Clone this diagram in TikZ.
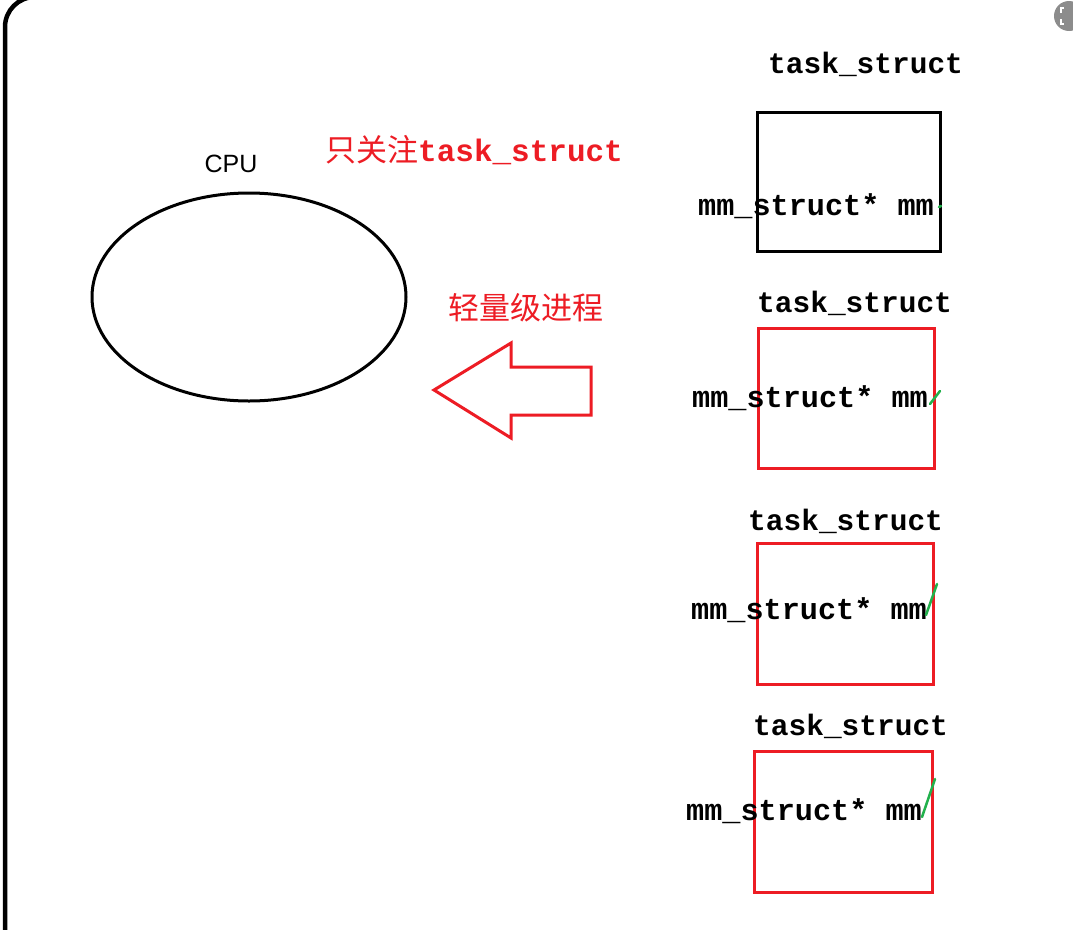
\documentclass[tikz,border=0pt]{standalone}
\usepackage{fontspec}
\usetikzlibrary{shapes.geometric}
\setmonofont{Liberation Mono}
\setsansfont{Liberation Sans}
\newfontfamily\cjk{Noto Sans CJK SC}
\definecolor{pred}{HTML}{ED1C24}
\definecolor{pgreen}{HTML}{22B14C}
\begin{document}
\begin{tikzpicture}[x=1pt,y=-1pt,
  boxblack/.style={draw=black,line width=3pt,minimum width=183pt,minimum height=139pt,inner sep=0pt},
  boxred/.style={draw=pred,line width=3pt,minimum width=177pt,minimum height=142pt,inner sep=0pt},
  monolbl/.style={anchor=base west,inner sep=0pt,font=\ttfamily\bfseries\fontsize{29.5}{30}\selectfont},
  redlbl/.style={anchor=base west,inner sep=0pt,text=pred,font=\fontsize{31}{32}\selectfont},
  tick/.style={draw=pgreen,line width=2.5pt,line cap=round}]
\useasboundingbox (0,0) rectangle (1073,929);
\fill[white] (0,0) rectangle (1073,929);
% frame corner
\draw[line width=4.5pt] (5,935) -- (5,27) arc[start angle=180,end angle=270,radius=30] -- (1080,-3);
% top-right icon
\fill[black!45] (1069,16) circle[radius=15];
\draw[white,line width=1.5pt] (1064,8) -- (1061,8) -- (1061,13) (1061,19) -- (1061,24) -- (1064,24);
% CPU
\node[draw,ellipse,line width=3pt,minimum width=314pt,minimum height=208pt,inner sep=0pt] (cpu) at (249,297) {};
\node[anchor=base,inner sep=0pt,font=\sffamily\fontsize{25}{26}\selectfont] (cpulbl) at (231,172) {CPU};
% red notes
\node[redlbl] (note1) at (325,161) {{\cjk 只关注}{\ttfamily\bfseries task\_struct}};
\node[redlbl] (note2) at (448,319) {\cjk 轻量级进程};
% arrow
\draw[pred,line width=3pt,line join=miter] (434,390) -- (511,343) -- (511,367) -- (591,367) -- (591,415) -- (511,415) -- (511,438) -- cycle;
% boxes
\node[boxblack] (b1) at (848.5,181.5) {};
\node[boxred,minimum width=176pt,minimum height=140pt] (b2) at (846,398) {};
\node[boxred,minimum width=176pt,minimum height=141pt] (b3) at (845,613.5) {};
\node[boxred,minimum width=178pt,minimum height=141pt] (b4) at (843,821.5) {};
% labels
\node[monolbl] (t1) at (768,73) {task\_struct};
\node[monolbl] (t2) at (757,312) {task\_struct};
\node[monolbl] (t3) at (748,530) {task\_struct};
\node[monolbl] (t4) at (753,735) {task\_struct};
\node[monolbl,font=\ttfamily\bfseries\fontsize{30.2}{31}\selectfont] (m1) at (698,215) {mm\_struct* mm};
\node[monolbl,font=\ttfamily\bfseries\fontsize{30.2}{31}\selectfont] (m2) at (692,407) {mm\_struct* mm};
\node[monolbl,font=\ttfamily\bfseries\fontsize{30.2}{31}\selectfont] (m3) at (691,619) {mm\_struct* mm};
\node[monolbl,font=\ttfamily\bfseries\fontsize{30.2}{31}\selectfont] (m4) at (686,820) {mm\_struct* mm};
% green ticks
\draw[tick] (939,207) -- (941,206);
\draw[tick] (930,404) -- (940,391);
\draw[tick] (926,615) -- (937,584);
\draw[tick] (922,817) -- (935,779);
\end{tikzpicture}
\end{document}
